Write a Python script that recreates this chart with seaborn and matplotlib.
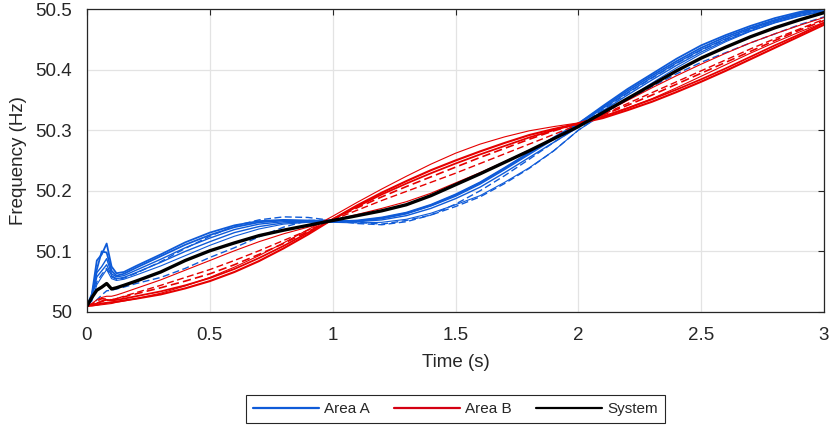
import numpy as np
import pandas as pd
import matplotlib
matplotlib.use("Agg")
import matplotlib.pyplot as plt
from matplotlib.lines import Line2D
import seaborn as sns

# ---------------- data ----------------
time_s = [0, 0.02, 0.04, 0.06, 0.08, 0.10, 0.12, 0.15, 0.2, 0.3, 0.4, 0.5, 0.6, 0.7,
          0.8, 0.9, 1.0, 1.1, 1.2, 1.3, 1.4, 1.5, 1.6, 1.7, 1.8, 1.9, 2.0, 2.1, 2.2,
          2.3, 2.4, 2.5, 2.6, 2.7, 2.8, 2.9, 3.0]

system = [50.010, 50.024, 50.036, 50.041, 50.047, 50.038, 50.040, 50.044, 50.051, 50.066,
          50.085, 50.101, 50.114, 50.126, 50.135, 50.143, 50.151, 50.159, 50.167, 50.177,
          50.192, 50.210, 50.228, 50.247, 50.266, 50.286, 50.306, 50.329, 50.352, 50.375,
          50.398, 50.419, 50.437, 50.454, 50.469, 50.482, 50.494]

area_a_1 = [50.010, 50.030, 50.085, 50.095, 50.113, 50.075, 50.064, 50.066, 50.076, 50.095,
            50.115, 50.131, 50.143, 50.150, 50.152, 50.151, 50.150, 50.150, 50.155, 50.163,
            50.176, 50.193, 50.213, 50.237, 50.262, 50.287, 50.311, 50.340, 50.368, 50.393,
            50.418, 50.440, 50.457, 50.472, 50.485, 50.495, 50.503]
area_a_2 = [50.010, 50.028, 50.070, 50.100, 50.098, 50.068, 50.060, 50.063, 50.073, 50.092,
            50.111, 50.127, 50.140, 50.148, 50.151, 50.150, 50.149, 50.151, 50.156, 50.164,
            50.177, 50.194, 50.214, 50.238, 50.263, 50.288, 50.311, 50.338, 50.365, 50.390,
            50.414, 50.436, 50.454, 50.469, 50.482, 50.493, 50.501]
area_a_3 = [50.010, 50.025, 50.065, 50.075, 50.088, 50.063, 50.058, 50.060, 50.069, 50.087,
            50.106, 50.122, 50.136, 50.145, 50.149, 50.150, 50.149, 50.150, 50.154, 50.162,
            50.175, 50.191, 50.211, 50.235, 50.260, 50.285, 50.309, 50.336, 50.362, 50.387,
            50.411, 50.433, 50.451, 50.467, 50.480, 50.491, 50.499]
area_a_4 = [50.010, 50.022, 50.058, 50.068, 50.078, 50.060, 50.055, 50.057, 50.065, 50.082,
            50.100, 50.116, 50.131, 50.141, 50.147, 50.149, 50.149, 50.149, 50.152, 50.159,
            50.171, 50.187, 50.206, 50.230, 50.255, 50.280, 50.305, 50.332, 50.358, 50.383,
            50.407, 50.429, 50.448, 50.464, 50.478, 50.489, 50.497]
area_a_5 = [50.010, 50.018, 50.045, 50.058, 50.070, 50.055, 50.052, 50.054, 50.061, 50.076,
            50.093, 50.110, 50.125, 50.137, 50.145, 50.148, 50.148, 50.147, 50.148, 50.153,
            50.163, 50.177, 50.192, 50.214, 50.238, 50.266, 50.300, 50.326, 50.352, 50.378,
            50.403, 50.426, 50.446, 50.463, 50.477, 50.488, 50.496]
area_a_6 = [50.010, 50.012, 50.020, 50.028, 50.035, 50.036, 50.038, 50.041, 50.047, 50.057,
            50.072, 50.090, 50.106, 50.124, 50.140, 50.151, 50.152, 50.148, 50.145, 50.151,
            50.160, 50.174, 50.190, 50.212, 50.237, 50.266, 50.300, 50.328, 50.350, 50.372,
            50.393, 50.412, 50.428, 50.444, 50.459, 50.474, 50.487]
area_a_7 = [50.010, 50.020, 50.050, 50.062, 50.072, 50.058, 50.054, 50.056, 50.064, 50.083,
            50.105, 50.125, 50.142, 50.152, 50.157, 50.156, 50.151, 50.146, 50.144, 50.149,
            50.160, 50.178, 50.200, 50.225, 50.252, 50.280, 50.306, 50.334, 50.361, 50.386,
            50.410, 50.432, 50.450, 50.466, 50.480, 50.491, 50.499]

area_b_1 = [50.010, 50.010, 50.011, 50.012, 50.013, 50.014, 50.016, 50.018, 50.022, 50.031,
            50.043, 50.057, 50.074, 50.093, 50.114, 50.136, 50.158, 50.181, 50.203, 50.224,
            50.244, 50.262, 50.277, 50.289, 50.299, 50.306, 50.312, 50.323, 50.337, 50.352,
            50.370, 50.389, 50.408, 50.427, 50.445, 50.462, 50.478]
area_b_2 = [50.010, 50.011, 50.012, 50.014, 50.015, 50.016, 50.017, 50.019, 50.022, 50.029,
            50.039, 50.051, 50.066, 50.084, 50.105, 50.128, 50.153, 50.176, 50.197, 50.216,
            50.234, 50.250, 50.265, 50.279, 50.292, 50.302, 50.311, 50.320, 50.333, 50.347,
            50.363, 50.380, 50.398, 50.417, 50.436, 50.455, 50.474]
area_b_3 = [50.010, 50.012, 50.014, 50.018, 50.020, 50.019, 50.020, 50.022, 50.026, 50.034,
            50.044, 50.056, 50.071, 50.089, 50.109, 50.131, 50.153, 50.174, 50.194, 50.212,
            50.229, 50.245, 50.260, 50.274, 50.288, 50.300, 50.311, 50.322, 50.336, 50.351,
            50.367, 50.384, 50.402, 50.421, 50.440, 50.458, 50.477]
area_b_4 = [50.010, 50.013, 50.018, 50.022, 50.021, 50.020, 50.022, 50.025, 50.030, 50.040,
            50.051, 50.063, 50.078, 50.095, 50.113, 50.133, 50.153, 50.172, 50.190, 50.207,
            50.223, 50.239, 50.255, 50.270, 50.285, 50.299, 50.311, 50.325, 50.341, 50.358,
            50.376, 50.394, 50.412, 50.430, 50.448, 50.465, 50.481]
area_b_5 = [50.010, 50.012, 50.015, 50.017, 50.019, 50.020, 50.022, 50.026, 50.032, 50.044,
            50.057, 50.070, 50.085, 50.101, 50.118, 50.135, 50.152, 50.168, 50.184, 50.199,
            50.214, 50.229, 50.245, 50.261, 50.277, 50.293, 50.309, 50.326, 50.344, 50.362,
            50.380, 50.398, 50.416, 50.434, 50.451, 50.467, 50.483]
area_b_6 = [50.010, 50.014, 50.020, 50.024, 50.026, 50.026, 50.028, 50.032, 50.039, 50.053,
            50.069, 50.085, 50.101, 50.116, 50.129, 50.140, 50.151, 50.161, 50.171, 50.182,
            50.196, 50.213, 50.230, 50.248, 50.267, 50.287, 50.307, 50.328, 50.349, 50.370,
            50.390, 50.409, 50.427, 50.444, 50.459, 50.473, 50.486]

x_ticks = [0, 0.5, 1, 1.5, 2, 2.5, 3]
x_tick_labels = ["0", "0.5", "1", "1.5", "2", "2.5", "3"]
y_ticks = [50, 50.1, 50.2, 50.3, 50.4, 50.5]
y_tick_labels = ["50", "50.1", "50.2", "50.3", "50.4", "50.5"]
legend_labels = ["Area A", "Area B", "System"]

# ---------------- style ----------------
BLUE = "#0f5bd8"
RED = "#e60000"
BLACK = "#000000"

sns.set_theme(style="white")
plt.rcParams["font.family"] = ["Liberation Sans", "DejaVu Sans"]

fig = plt.figure(figsize=(8.31, 4.26), dpi=100)
ax = fig.add_axes([87 / 831, 1 - 312 / 426, (824 - 87) / 831, (312 - 9) / 426])

blue_specs = [(area_a_1, "-", 1.3), (area_a_2, "-", 1.3), (area_a_3, "-", 1.0),
              (area_a_4, "-", 1.0), (area_a_5, "-", 0.8), (area_a_6, "--", 1.0),
              (area_a_7, "--", 1.0)]
red_specs = [(area_b_1, "-", 0.8), (area_b_2, "-", 1.5), (area_b_3, "-", 1.3),
             (area_b_4, "--", 1.2), (area_b_5, "--", 1.0), (area_b_6, "-", 0.8)]

for vals, ls, lw in blue_specs:
    sns.lineplot(x=time_s, y=vals, ax=ax, color=BLUE, linewidth=lw, linestyle=ls)
for vals, ls, lw in red_specs:
    sns.lineplot(x=time_s, y=vals, ax=ax, color=RED, linewidth=lw, linestyle=ls)
sns.lineplot(x=time_s, y=system, ax=ax, color=BLACK, linewidth=2.4)

for line in ax.get_lines():
    if line.get_linestyle() == "--":
        line.set_dashes((5, 2.5))

ax.set_xlim(0, 3)
ax.set_ylim(50, 50.5)
ax.set_xticks(x_ticks)
ax.set_xticklabels(x_tick_labels)
ax.set_yticks(y_ticks)
ax.set_yticklabels(y_tick_labels)
ax.grid(True, color="#e3e3e3", linewidth=0.9)
ax.set_axisbelow(True)
for sp in ax.spines.values():
    sp.set_visible(True)
    sp.set_color("#262626")
    sp.set_linewidth(0.9)
ax.tick_params(direction="in", length=4, width=0.8, colors="#262626",
               top=True, right=True, labelsize=13.5)
ax.tick_params(axis="x", pad=11)
ax.tick_params(axis="y", pad=11)
ax.set_xlabel("Time (s)", fontsize=13.5, color="#262626", labelpad=7)
ax.set_ylabel("Frequency (Hz)", fontsize=13.5, color="#262626", labelpad=6)

handles = [Line2D([0], [0], color=BLUE, lw=1.6),
           Line2D([0], [0], color="#d40012", lw=1.6),
           Line2D([0], [0], color=BLACK, lw=1.6)]
leg = ax.legend(handles, legend_labels, loc="lower center", bbox_to_anchor=(0.5, -0.366),
                borderaxespad=0, ncol=3, fontsize=11, frameon=True, fancybox=False,
                framealpha=1, edgecolor="#262626", handlelength=4.3, handletextpad=0.35,
                columnspacing=1.6, borderpad=0.45)
leg.get_frame().set_linewidth(0.8)

fig.savefig("out.png", dpi=100)
